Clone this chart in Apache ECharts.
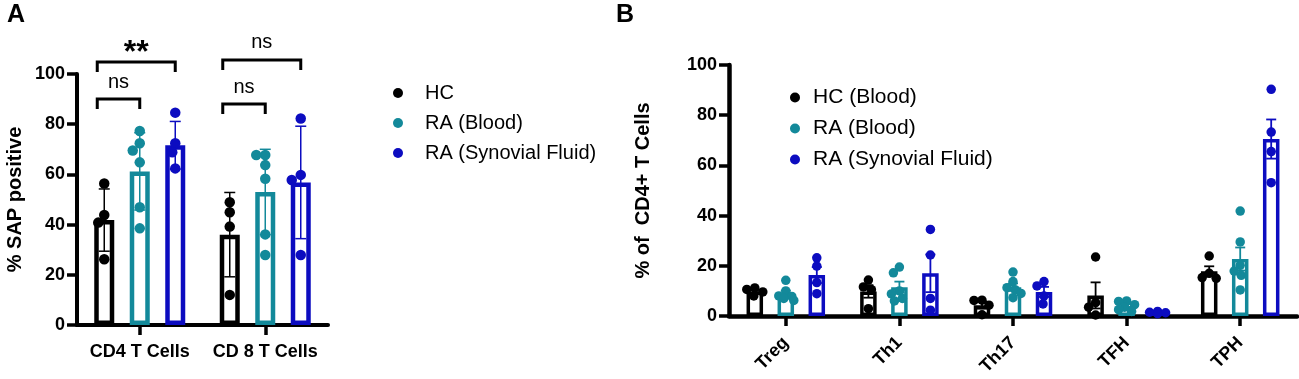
<!DOCTYPE html>
<html><head><meta charset="utf-8">
<script src="https://cdn.jsdelivr.net/npm/echarts@6/dist/echarts.min.js"></script>
<style>html,body{margin:0;padding:0;background:#fff}#c{width:1299px;height:379px}</style>
</head><body><div id="c"></div>
<script>
// ---------------- Panel A data ----------------
const catsA = ['CD4 T Cells', 'CD 8 T Cells'];
const groupsA = ['HC', 'RA (Blood)', 'RA (Synovial Fluid)'];
const hcA_mean = [41.8, 36.0];
const hcA_sd = [12.4, 16.8];
const hcA_pts = [[56.4, 43.8, 40.8, 26.2], [48.9, 44.9, 39.2, 12.0]];
const rabA_mean = [61.2, 53.0];
const rabA_sd = [15.4, 17.0];
const rabA_pts = [[77.3, 72.4, 69.5, 64.8, 46.9, 38.5], [67.7, 67.7, 63.7, 58.3, 36.1, 27.9]];
const rasA_mean = [71.6, 56.8];
const rasA_sd = [9.5, 22.4];
const rasA_pts = [[84.6, 72.4, 68.8, 62.4], [82.3, 59.8, 57.8, 27.9]];
// significance brackets: [category, from group, to group, level, label]
const bracketsA = [[0, 0, 1, 90, 'ns'], [0, 0, 2, 104.8, '**'], [1, 0, 1, 88, 'ns'], [1, 0, 2, 105.6, 'ns']];

// ---------------- Panel B data ----------------
const catsB = ['Treg', 'Th1', 'Th17', 'TFH', 'TPH'];
const groupsB = ['HC (Blood)', 'RA (Blood)', 'RA (Synovial Fluid)'];
const hcB_mean = [9.8, 9.8, 4.3, 8.2, 17.8];
const hcB_sem = [0.6, 2.5, 1.4, 5.2, 2.0];
const hcB_pts = [[11.2, 10.6, 9.6, 8.0], [14.3, 11.6, 10.5, 2.9], [6.3, 6.2, 4.3, 0.5], [23.5, 5.3, 3.5, 0.4], [23.9, 17.0, 15.3, 15.0]];
const rabB_mean = [8.9, 11.5, 11.5, 4.0, 22.7];
const rabB_sem = [1.2, 2.2, 1.5, 0.7, 4.6];
const rabB_pts = [[14.2, 10.0, 8.0, 7.8, 7.0, 6.2], [19.5, 17.2, 10.0, 8.8, 7.0, 6.0], [17.5, 13.7, 11.3, 10.5, 9.0, 7.3], [6.0, 5.8, 4.5, 3.5, 2.5, 1.8], [41.8, 29.5, 20.2, 17.9, 16.2, 10.4]];
const rasB_mean = [16.3, 17.0, 9.6, 1.4, 70.5];
const rasB_sem = [3.2, 7.5, 2.0, 0.3, 7.8];
const rasB_pts = [[23.2, 19.9, 13.3, 8.9], [34.5, 24.3, 7.0, 2.3], [13.7, 12.0, 8.0, 4.8], [1.8, 1.5, 1.3, 0.9], [90.3, 73.3, 65.5, 53.1]];

// ---------------- styling / layout ----------------
const FONT = '"Liberation Sans", Arial, sans-serif';
const COLORS = ['#000000', '#13899a', '#0c0cc0'];
const gA = {left: 77, top: 74, width: 251, height: 251};
const gB = {left: 729, top: 65, width: 568, height: 251};
const barA = {w: 20, border: 4.5, spacing: 35.5, dot: 10.5, cap: 5.5};
const barB = {w: 16.5, border: 3.5, spacing: 31, dot: 9.5, cap: 5};
const bandA = gA.width / catsA.length, bandB = gB.width / catsB.length;
const offsA = [-1, 0, 1].map(k => k * barA.spacing / bandA);
const offsB = [-1, 0, 1].map(k => k * barB.spacing / bandB);

function swarm(vals, pxPerUnit, d, maxOff) {
  const placed = [];
  return vals.map(v => {
    const y = v * pxPerUnit;
    const cands = [0];
    for (let s = 1; s <= maxOff; s++) cands.push(-s, s);
    let best = 0, bestCost = Infinity;
    for (const o of cands) {
      let cost = 0;
      for (const p of placed) {
        const dist = Math.hypot(o - p[0], y - p[1]);
        if (dist < d) cost += d - dist;
      }
      if (cost < bestCost - 1e-9) { bestCost = cost; best = o; }
      if (cost === 0) break;
    }
    placed.push([best, y]);
    return best;
  });
}

function dotData(ptsByCat, offs, g, band, pxPerUnit, d, maxOff) {
  const out = [];
  ptsByCat.forEach((vals, i) => {
    const jit = swarm(vals, pxPerUnit, d, maxOff);
    vals.forEach((v, k) => out.push([i + offs[g] + jit[k] / band, v]));
  });
  return out;
}

function errRender(capHalf, lw, color) {
  return function (params, api) {
    const x = api.value(0), m = api.value(1), e = api.value(2);
    const t = api.coord([x, m + e]), b = api.coord([x, Math.max(0, m - e)]);
    const st = {stroke: color, lineWidth: lw};
    return {type: 'group', children: [
      {type: 'line', shape: {x1: t[0], y1: t[1], x2: b[0], y2: b[1]}, style: st},
      {type: 'line', shape: {x1: t[0] - capHalf, y1: t[1], x2: t[0] + capHalf, y2: t[1]}, style: st},
      {type: 'line', shape: {x1: b[0] - capHalf, y1: b[1], x2: b[0] + capHalf, y2: b[1]}, style: st}
    ]};
  };
}

function bracketRender(params, api) {
  const [cat, from, to, level, label] = bracketsA[params.dataIndex];
  const pL = api.coord([cat + offsA[from], level]);
  const pR = api.coord([cat + offsA[to], level]);
  const x1 = pL[0] - 7, x2 = pR[0], y = pL[1], leg = 10;
  const star = label === '**';
  return {type: 'group', children: [
    {type: 'polyline', shape: {points: [[x1, y + leg], [x1, y], [x2, y], [x2, y + leg]]},
     style: {stroke: '#000', lineWidth: 3, fill: null}},
    {type: 'text', style: {text: label, x: (x1 + x2) / 2, y: y - (star ? 9 : 17), align: 'center', verticalAlign: 'middle',
      fontSize: star ? 32 : 20, fontWeight: star ? 'bold' : 'normal', fontFamily: FONT, fill: '#000'}}
  ]};
}

const meansA = [hcA_mean, rabA_mean, rasA_mean], sdA = [hcA_sd, rabA_sd, rasA_sd], ptsA = [hcA_pts, rabA_pts, rasA_pts];
const meansB = [hcB_mean, rabB_mean, rasB_mean], semB = [hcB_sem, rabB_sem, rasB_sem], ptsB = [hcB_pts, rabB_pts, rasB_pts];

const series = [];
// Panel A
[0, 1, 2].forEach(g => series.push({type: 'bar', name: 'barA' + g, xAxisIndex: 0, yAxisIndex: 0, data: meansA[g],
  barWidth: barA.w, barGap: ((barA.spacing / barA.w - 1) * 100) + '%', silent: true, z: 2,
  itemStyle: {color: '#fff', borderColor: COLORS[g], borderWidth: barA.border}}));
[0, 1, 2].forEach(g => series.push({type: 'custom', name: 'errA' + g, xAxisIndex: 1, yAxisIndex: 0, z: 3, silent: true,
  data: catsA.map((c, i) => [i + offsA[g], meansA[g][i], sdA[g][i]]), renderItem: errRender(barA.cap, 1.5, COLORS[g])}));
[0, 1, 2].forEach(g => series.push({type: 'scatter', name: groupsA[g], xAxisIndex: 1, yAxisIndex: 0, z: 4,
  symbolSize: barA.dot, itemStyle: {color: COLORS[g], opacity: 1},
  data: dotData(ptsA[g], offsA, g, bandA, gA.height / 100, barA.dot * 0.9, 9)}));
series.push({type: 'custom', name: 'sig', xAxisIndex: 1, yAxisIndex: 0, z: 5, silent: true, clip: false,
  data: bracketsA.map(b => [b[0], Math.min(b[3], 100)]), renderItem: bracketRender});
// Panel B
[0, 1, 2].forEach(g => series.push({type: 'bar', name: 'barB' + g, xAxisIndex: 2, yAxisIndex: 1, data: meansB[g],
  barWidth: barB.w, barGap: ((barB.spacing / barB.w - 1) * 100) + '%', silent: true, z: 2,
  itemStyle: {color: '#fff', borderColor: COLORS[g], borderWidth: barB.border}}));
[0, 1, 2].forEach(g => series.push({type: 'custom', name: 'errB' + g, xAxisIndex: 3, yAxisIndex: 1, z: 3, silent: true,
  data: catsB.map((c, i) => [i + offsB[g], meansB[g][i], semB[g][i]]), renderItem: errRender(barB.cap, 1.8, COLORS[g])}));
[0, 1, 2].forEach(g => series.push({type: 'scatter', name: groupsB[g], xAxisIndex: 3, yAxisIndex: 1, z: 4,
  symbolSize: barB.dot, itemStyle: {color: COLORS[g], opacity: 1},
  data: dotData(ptsB[g], offsB, g, bandB, gB.height / 100, barB.dot * 0.85, 8)}));

function catAxis(grid, data, rotate, margin, lw) {
  return {type: 'category', gridIndex: grid, data: data,
    axisLine: {show: true, onZero: false, lineStyle: {color: '#000', width: lw}},
    axisTick: {show: true, alignWithLabel: true, length: 10, lineStyle: {color: '#000', width: 3.5}},
    axisLabel: {color: '#000', fontSize: 18, fontWeight: 'bold', fontFamily: FONT, margin: margin, rotate: rotate, interval: 0},
    splitLine: {show: false}};
}
function valAxis(grid, name, gap, lw) {
  return {type: 'value', gridIndex: grid, min: 0, max: 100, interval: 20, name: name, nameLocation: 'middle', nameGap: gap,
    nameTextStyle: {color: '#000', fontSize: 20, fontWeight: 'bold', fontFamily: FONT},
    axisLine: {show: true, onZero: false, lineStyle: {color: '#000', width: lw}},
    axisTick: {show: true, length: 10, lineStyle: {color: '#000', width: 3.5}},
    axisLabel: {color: '#000', fontSize: 18, fontWeight: 'bold', fontFamily: FONT, margin: 12},
    splitLine: {show: false}};
}

const option = {
  animation: false,
  backgroundColor: '#fff',
  grid: [
    {left: gA.left, top: gA.top, width: gA.width, height: gA.height, containLabel: false, outerBoundsMode: 'none'},
    {left: gB.left, top: gB.top, width: gB.width, height: gB.height, containLabel: false, outerBoundsMode: 'none'}
  ],
  xAxis: [
    catAxis(0, catsA, 0, 18, 4),
    {type: 'value', gridIndex: 0, min: -0.5, max: catsA.length - 0.5, show: false},
    catAxis(1, catsB, 45, 24, 4.5),
    {type: 'value', gridIndex: 1, min: -0.5, max: catsB.length - 0.5, show: false}
  ],
  yAxis: [
    valAxis(0, '% SAP positive', 52, 4),
    valAxis(1, '% of  CD4+ T Cells', 76, 4.5)
  ],
  legend: [
    {left: 388, top: 78, orient: 'vertical', icon: 'circle', itemWidth: 10, itemHeight: 10, itemGap: 10,
     selectedMode: false, data: groupsA,
     textStyle: {fontSize: 20, lineHeight: 20, fontFamily: FONT, color: '#000', padding: [0, 0, 0, 17]}},
    {left: 785, top: 82, orient: 'vertical', icon: 'circle', itemWidth: 10, itemHeight: 10, itemGap: 10,
     selectedMode: false, data: groupsB,
     textStyle: {fontSize: 21, lineHeight: 21, fontFamily: FONT, color: '#000', padding: [0, 0, 0, 8]}}
  ],
  graphic: [
    {type: 'text', left: 7, top: 3, style: {text: 'A', fontSize: 25, fontWeight: 'bold', fontFamily: FONT, fill: '#000'}},
    {type: 'text', left: 616, top: 3, style: {text: 'B', fontSize: 25, fontWeight: 'bold', fontFamily: FONT, fill: '#000'}}
  ],
  series: series
};

const chart = echarts.init(document.getElementById('c'), null, {renderer: 'canvas'});
chart.setOption(option);
</script>
</body></html>
